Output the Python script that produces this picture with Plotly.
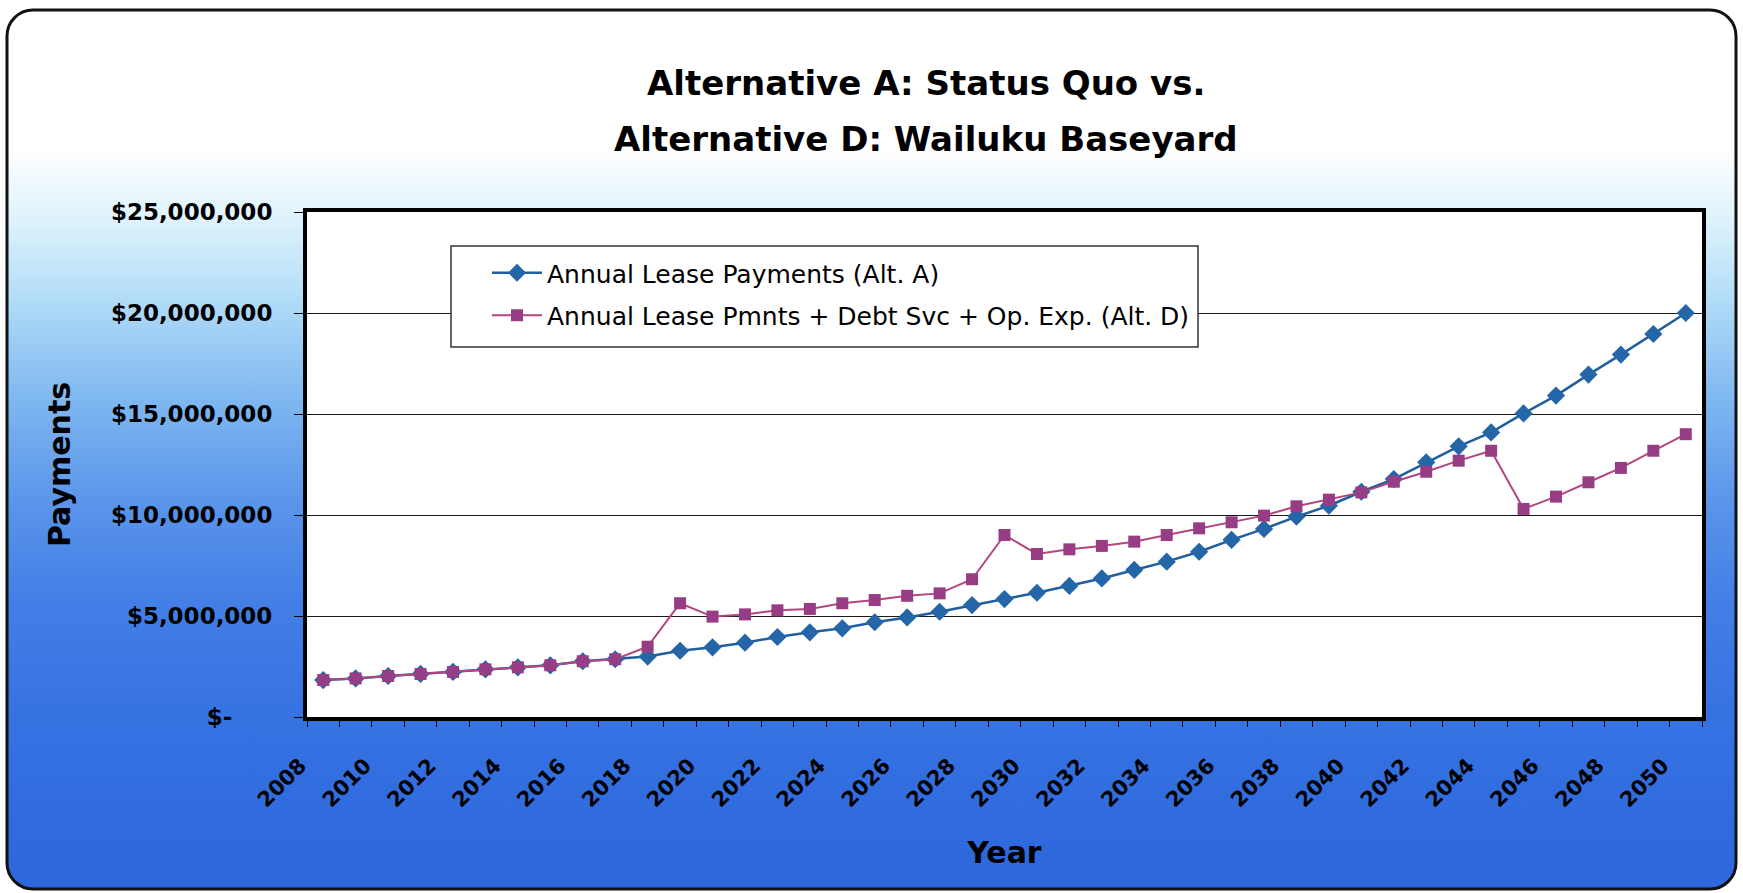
import base64
import plotly.graph_objects as go

# ---- data -------------------------------------------------------------
years = list(range(2008, 2051))

# Annual lease payments, Alternative A (status quo), in dollars
alt_a_payments = [
    1830000, 1910000, 2030000, 2130000, 2230000, 2360000, 2460000, 2560000,
    2760000, 2860000, 2990000, 3280000, 3450000, 3680000, 3960000, 4190000,
    4390000, 4690000, 4930000, 5210000, 5540000, 5840000, 6150000, 6490000,
    6860000, 7280000, 7690000, 8180000, 8770000, 9310000, 9920000, 10460000,
    11150000, 11780000, 12610000, 13400000, 14090000, 15030000, 15910000,
    16950000, 17940000, 18960000, 20000000,
]

# Lease payments + debt service + operating expense, Alternative D
alt_d_payments = [
    1830000, 1910000, 2030000, 2130000, 2230000, 2360000, 2460000, 2560000,
    2760000, 2860000, 3480000, 5630000, 4970000, 5080000, 5280000, 5350000,
    5630000, 5790000, 6000000, 6120000, 6820000, 9010000, 8070000, 8300000,
    8470000, 8680000, 9010000, 9340000, 9640000, 9970000, 10430000, 10760000,
    11120000, 11650000, 12140000, 12690000, 13180000, 10300000, 10910000,
    11620000, 12330000, 13180000, 14000000,
]

series_names = [
    "Annual Lease Payments (Alt. A)",
    "Annual Lease Pmnts + Debt Svc + Op. Exp. (Alt. D)",
]

x_tick_years = [2008, 2010, 2012, 2014, 2016, 2018, 2020, 2022, 2024, 2026,
                2028, 2030, 2032, 2034, 2036, 2038, 2040, 2042, 2044, 2046,
                2048, 2050]

y_tick_values = [0, 5000000, 10000000, 15000000, 20000000, 25000000]
y_tick_labels = ["$-\u00a0\u00a0\u00a0\u00a0\u00a0", "$5,000,000", "$10,000,000",
                 "$15,000,000", "$20,000,000", "$25,000,000"]

title_lines = ["Alternative A: Status Quo vs.", "Alternative D: Wailuku Baseyard"]

# ---- page geometry ----------------------------------------------------
W, H = 1743, 893
ML, MR, MT, MB = 307, 41, 212, 176
PW, PH = W - ML - MR, H - MT - MB


def px_x(px):
    """Page pixel column -> paper x."""
    return (px - ML) / PW


def px_y(py):
    """Page pixel row -> paper y."""
    return (H - MB - py) / PH


FONT = "Century Gothic, DejaVu Sans, sans-serif"

# Rounded frame with a white-to-blue vertical gradient behind the chart
bg_svg = f"""<svg xmlns="http://www.w3.org/2000/svg" width="{W}" height="{H}" viewBox="0 0 {W} {H}" preserveAspectRatio="none">
<defs><linearGradient id="g" x1="0" y1="0" x2="0" y2="1">
<stop offset="0" stop-color="#ffffff"/>
<stop offset="0.16" stop-color="#ffffff"/>
<stop offset="0.24" stop-color="#ddf2fc"/>
<stop offset="0.33" stop-color="#b1dcf7"/>
<stop offset="0.44" stop-color="#80b8f0"/>
<stop offset="0.56" stop-color="#5a95ea"/>
<stop offset="0.67" stop-color="#437fe6"/>
<stop offset="0.81" stop-color="#3572e2"/>
<stop offset="1" stop-color="#2c67db"/>
</linearGradient></defs>
<rect x="7" y="10" width="1729" height="879" rx="26" ry="26" fill="url(#g)" stroke="#111111" stroke-width="3"/>
</svg>"""
bg_uri = "data:image/svg+xml;base64," + base64.b64encode(bg_svg.encode()).decode()

fig = go.Figure()

fig.add_trace(go.Scatter(
    x=years, y=alt_a_payments, name=series_names[0], mode="lines+markers",
    line=dict(color="#1f5f9f", width=2.5),
    marker=dict(symbol="diamond", size=14, color="#2466a8"),
    legendgroup="a",
))
fig.add_trace(go.Scatter(
    x=years, y=alt_d_payments, name=series_names[1], mode="lines+markers",
    line=dict(color="#b4457f", width=2),
    marker=dict(symbol="square", size=12, color="#973d86"),
    legendgroup="d",
))

fig.update_layout(
    width=W, height=H,
    margin=dict(l=ML, r=MR, t=MT, b=MB, autoexpand=False),
    paper_bgcolor="white", plot_bgcolor="white",
    font=dict(family=FONT, color="black"),
    images=[dict(
        source=bg_uri, xref="paper", yref="paper",
        x=-ML / PW, y=1 + MT / PH, sizex=W / PW, sizey=H / PH,
        xanchor="left", yanchor="top", sizing="stretch", layer="below",
    )],
    shapes=[
        # white plotting area drawn over the gradient, beneath grid and traces
        dict(type="rect", xref="paper", yref="paper", x0=0, x1=1, y0=0, y1=1,
             fillcolor="white", line=dict(width=0), layer="below"),
        # legend frame
        dict(type="rect", xref="paper", yref="paper",
             x0=px_x(451), x1=px_x(1198), y0=px_y(347), y1=px_y(246),
             fillcolor="white", line=dict(color="#333333", width=1.5),
             layer="above"),
    ],
    legend=dict(
        x=px_x(487), y=px_y(250), xanchor="left", yanchor="top",
        bgcolor="rgba(0,0,0,0)", borderwidth=0,
        font=dict(family=FONT, size=25, color="black"),
        tracegroupgap=7, traceorder="grouped", itemwidth=50,
    ),
    showlegend=True,
)

for i, line in enumerate(title_lines):
    fig.add_annotation(
        text=f"<b>{line}</b>", xref="paper", yref="paper",
        x=px_x(926), y=px_y(83 + 56 * i),
        xanchor="center", yanchor="middle", showarrow=False,
        font=dict(family=FONT, size=34, color="black"),
    )

fig.update_xaxes(
    range=[2007.5, 2050.5],
    tickmode="array", tickvals=x_tick_years, ticktext=[str(v) for v in x_tick_years],
    tickangle=-45, ticks="", showgrid=False, zeroline=False,
    tickfont=dict(family=FONT, size=21, color="black", weight="bold"),
    ticklabelstandoff=24, ticklabelshift=-23,
    minor=dict(tickmode="linear", tick0=2007.5, dtick=1, ticks="outside",
               ticklen=6, tickcolor="black", showgrid=False),
    showline=True, linecolor="black", linewidth=4, mirror=True,
    title=dict(text="<b>Year</b>", font=dict(family=FONT, size=30, color="black"),
               standoff=32),
)

fig.update_yaxes(
    range=[0, 25000000],
    tickmode="array", tickvals=y_tick_values, ticktext=y_tick_labels,
    ticks="outside", ticklen=9, tickcolor="black",
    tickfont=dict(family=FONT, size=23, color="black", weight="bold"),
    ticklabelstandoff=17,
    showgrid=True, gridcolor="#1a1a1a", gridwidth=1, zeroline=False,
    showline=True, linecolor="black", linewidth=4, mirror=True,
    title=dict(text="<b>Payments</b>", font=dict(family=FONT, size=30, color="black"),
               standoff=32),
)

fig.write_html("out.html")
